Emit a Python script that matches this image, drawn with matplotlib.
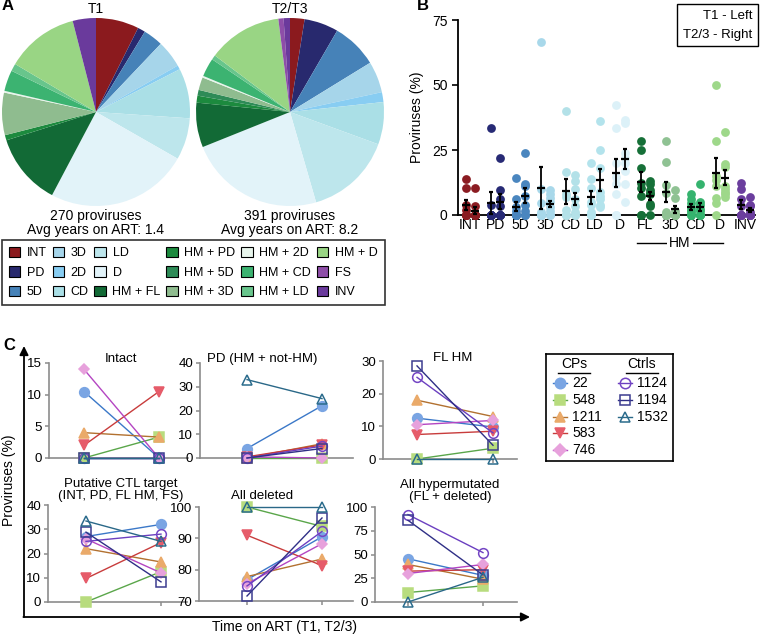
import numpy as np
import matplotlib
matplotlib.use("Agg")
import matplotlib.pyplot as plt
from matplotlib.patches import Patch
from matplotlib.transforms import blended_transform_factory

plt.rcParams['font.family'] = ['Liberation Sans', 'DejaVu Sans']

W, H = 763, 636

# ---------------- panel A: proviral landscape (% of proviruses)
pie_labels = ["INT", "PD", "5D", "3D", "2D", "CD", "LD", "D",
              "HM + FL", "HM + PD", "HM + 5D", "HM + 3D", "HM + 2D",
              "HM + CD", "HM + LD", "HM + D", "FS", "INV"]
pie_colors = ["#8b1a1e", "#28296e", "#4682b8", "#a6d5ea", "#88cdf2", "#aadfe6",
              "#bde6ec", "#e2f3f9", "#126a36", "#1c8a3e", "#2e8b57", "#8fbc8f",
              "#e8f5ec", "#3cb371", "#68c58c", "#99d584", "#8e4ea8", "#6a3a9c"]
pie_t1 = [7.4, 1.3, 3.4, 4.7, 0.7, 8.6, 7.2, 24.5, 12.4, 0.9, 0.0, 7.3, 0.3,
          3.6, 1.3, 12.5, 0.0, 4.0]
pie_t23 = [2.5, 5.9, 7.9, 5.4, 1.7, 7.3, 15.0, 23.5, 7.7, 1.2, 1.0, 2.2, 0.3,
           3.2, 0.8, 12.8, 0.9, 1.1]
pie_titles = ["T1", "T2/T3"]
pie_notes = ["270 proviruses\nAvg years on ART: 1.4",
             "391 proviruses\nAvg years on ART: 8.2"]

# ---------------- panel B: per-participant proportions
b_groups = ["INT", "PD", "5D", "3D", "CD", "LD", "D", "FL", "3D", "CD", "D", "INV"]
b_colors = ["#8b1c22", "#272a75", "#4a86bf", "#a8d8ea", "#b3e1e8", "#b3e3ec",
            "#dcf1f8", "#167038", "#8fc293", "#35b36e", "#9ed88a", "#6b3e9e"]
b_t1 = [[14, 10.5, 4, 2, 0, 0, 0, 0],
        [33.3, 4, 0, 0, 0, 0, 0, 0],
        [14.2, 6, 3.2, 1.5, 0, 0, 0, 0],
        [66.7, 10, 4.5, 1, 0, 0, 0, 0],
        [40, 16.5, 8, 7, 2, 0, 0, 0],
        [20, 13.8, 10.5, 5, 4, 1, 0, 0],
        [42.5, 33.5, 20, 14.5, 12, 8, 0, 0],
        [28.5, 25, 18, 12.5, 10.5, 7.5, 0, 0],
        [28.5, 20.5, 11.5, 8.3, 1, 0, 0, 0],
        [8, 6, 4.5, 3, 2, 1, 0, 0],
        [50, 28.5, 15, 13.5, 11, 6.5, 4.5, 0],
        [12.5, 10, 6, 3.5, 0, 0, 0, 0]]
b_t23 = [[10.5, 3.3, 0, 0, 0, 0, 0, 0],
         [21.8, 9.8, 6.3, 3.6, 0, 0, 0, 0],
         [23.8, 12, 11, 7.5, 4, 1.5, 0, 0],
         [9.5, 8, 6.5, 5, 3, 1.5, 0, 0],
         [15.5, 13, 10, 6, 3.5, 1, 0, 0],
         [36, 25, 18, 9, 7.5, 6, 4, 3],
         [36.5, 35.5, 24, 22, 20, 17, 12, 5],
         [13, 11.8, 9.8, 8.5, 8, 4.2, 3.3, 0],
         [9.5, 6.5, 1.5, 0, 0, 0, 0, 0],
         [12, 5, 4, 2.5, 1.5, 0, 0, 0],
         [32, 19.5, 18.5, 11, 10, 9, 8, 7],
         [7, 4, 3.5, 1, 0, 0, 0, 0]]

# ---------------- panel C: paired T1 -> T2/3 per participant
c_ids = ["22", "548", "1211", "583", "746", "1124", "1194", "1532"]
c_markers = ["o", "s", "^", "v", "D", "o", "s", "^"]
c_fill = ["#7aa5e3", "#b8dc7e", "#eaaa6a", "#e65c6a", "#e7a1dc", "none", "none", "none"]
c_edge = ["#7aa5e3", "#b8dc7e", "#eaaa6a", "#e65c6a", "#e7a1dc", "#7446c4", "#3c3c90", "#2b6c8c"]
c_line = ["#3b78c8", "#5aa64a", "#b27130", "#c83c3c", "#b445c2", "#6b3fc0", "#2f2f86", "#2a6888"]

intact_t1 = [10.5, 0, 4, 2, 14, 0, 0, 0]
intact_t23 = [0, 3.3, 3.3, 10.5, 0, 0, 0, 0]
pd_t1 = [4, 0, 0, 0.5, 0.5, 0, 0, 33]
pd_t23 = [22, 0, 6, 5.5, 0, 5, 4, 25]
flhm_t1 = [12.5, 0, 18, 7.5, 10.5, 25, 28.5, 0]
flhm_t23 = [9.8, 3.3, 13, 8.5, 11.8, 8, 4.2, 0]
ctl_t1 = [27, 0, 22, 9.7, 26, 25, 28.8, 33.4]
ctl_t23 = [32, 12.5, 16.5, 24.5, 12, 28, 8.3, 25]
del_t1 = [76.8, 100, 77.8, 91, 75.5, 74.8, 71.6, 100]
del_t23 = [90.5, 93.8, 83.4, 81.3, 88.3, 92.2, 96.5, 100]
hyp_t1 = [45.5, 10, 39.5, 32.5, 30, 92, 86, 0]
hyp_t23 = [28, 17, 24, 34, 39.5, 52, 28.5, 26]


def px_rect(x0, y0, x1, y1):
    return [x0 / W, 1 - y1 / H, (x1 - x0) / W, (y1 - y0) / H]


fig = plt.figure(figsize=(W / 100, H / 100), dpi=100)

# ---- A: pies
for vals, cx, title, note in zip([pie_t1, pie_t23], [96, 290], pie_titles, pie_notes):
    ax = fig.add_axes(px_rect(cx - 94, 18, cx + 94, 206))
    ax.pie(vals, colors=pie_colors, startangle=90, counterclock=False,
           wedgeprops=dict(linewidth=0))
    ax.set_xlim(-1, 1)
    ax.set_ylim(-1, 1)
    fig.text(cx / W, 1 - 9 / H, title, ha="center", va="center", fontsize=10)
    fig.text(cx / W, 1 - 223 / H, note, ha="center", va="center", fontsize=10,
             linespacing=1.0)

handles = [Patch(facecolor=c, edgecolor="black", linewidth=0.8) for c in pie_colors]
leg = fig.legend(handles, pie_labels, ncol=6, loc="upper left",
                 bbox_to_anchor=(2 / W, 1 - 240 / H),
                 fontsize=9, handlelength=0.9, handleheight=0.9, handletextpad=0.55,
                 labelspacing=0.55, borderpad=0.55, columnspacing=0.45,
                 frameon=True, fancybox=False, edgecolor="black", borderaxespad=0)
leg.get_frame().set_linewidth(1.2)

# ---- B: dot plot with mean +/- SEM
axB = fig.add_axes(px_rect(458, 20, 755, 215))
for i, (col, v1, v2) in enumerate(zip(b_colors, b_t1, b_t23)):
    for x, vals in ((i - 0.18, v1), (i + 0.18, v2)):
        vals = np.array(vals, dtype=float)
        axB.scatter(np.full(len(vals), x), vals, s=40, color=col, zorder=3,
                    clip_on=False, linewidths=0)
        m = vals.mean()
        sem = vals.std(ddof=1) / np.sqrt(len(vals))
        axB.errorbar(x, m, yerr=sem, fmt="_", color="black", markersize=6,
                     mew=1.6, capsize=1.5, elinewidth=1.3, capthick=1.2, zorder=4)
axB.set_xlim(-0.48, 11.4)
axB.set_ylim(0, 75)
axB.set_yticks([0, 25, 50, 75])
axB.set_xticks(range(len(b_groups)))
axB.set_xticklabels(b_groups)
axB.tick_params(axis="x", length=0, pad=2, labelsize=10)
axB.tick_params(axis="y", length=4, width=1.2, labelsize=10)
axB.set_ylabel("Proviruses (%)", fontsize=10, labelpad=6)
for s in ("top", "right"):
    axB.spines[s].set_visible(False)
for s in ("left", "bottom"):
    axB.spines[s].set_linewidth(1.3)
tr = blended_transform_factory(axB.transData, axB.transAxes)
axB.plot([6.68, 10.12], [-0.145, -0.145], transform=tr, color="black", lw=1,
         clip_on=False)
axB.text(8.4, -0.145, "HM", transform=tr, ha="center", va="center", fontsize=10,
         bbox=dict(boxstyle="square,pad=0.15", fc="white", ec="none"))
axB.text(0.99, 1.05, "T1 - Left\nT2/3 - Right", transform=axB.transAxes,
         ha="right", va="top", fontsize=9.5, linespacing=1.7,
         bbox=dict(boxstyle="square,pad=0.45", fc="white", ec="black", lw=1))

# ---- C: paired plots
c_panels = [
    ("Intact", intact_t1, intact_t23, (0, 15), [0, 5, 10, 15], (49, 363, 188, 458), 84, 159, (121, 359)),
    ("PD (HM + not-HM)", pd_t1, pd_t23, (0, 40), [0, 10, 20, 30, 40], (200, 363, 353, 458), 247, 322, (262, 359)),
    ("FL HM", flhm_t1, flhm_t23, (0, 30), [0, 10, 20, 30], (383, 361, 517, 459), 417, 493, (453, 358)),
    ("Putative CTL target\n(INT, PD, FL HM, FS)", ctl_t1, ctl_t23, (0, 40), [0, 10, 20, 30, 40],
     (48, 505, 187, 602), 86, 161, (121, 490)),
    ("All deleted", del_t1, del_t23, (70, 100), [70, 80, 90, 100], (199, 507, 353, 601), 247, 322, (262, 496)),
    ("All hypermutated\n(FL + deleted)", hyp_t1, hyp_t23, (0, 100), [0, 25, 50, 75, 100],
     (375, 507, 517, 602), 408, 483, (450, 491)),
]
for title, t1, t2, ylim, yt, (x0, y0, x1, y1), p1, p2, (tx, ty) in c_panels:
    ax = fig.add_axes(px_rect(x0, y0, x1, y1))
    for k in range(len(c_ids)):
        ax.plot([0, 1], [t1[k], t2[k]], color=c_line[k], lw=1, marker=c_markers[k],
                ms=7 if c_markers[k] != "D" else 5.5, mfc=c_fill[k], mec=c_edge[k],
                mew=1.1, clip_on=False, zorder=3 + k * 0.1)
    sp = p2 - p1
    ax.set_xlim((x0 - p1) / sp, (x1 - p1) / sp)
    ax.set_ylim(*ylim)
    ax.set_yticks(yt)
    ax.set_xticks([0, 1])
    ax.set_xticklabels([])
    for s in ("top", "right"):
        ax.spines[s].set_visible(False)
    for s in ("left", "bottom"):
        ax.spines[s].set_color("#8c8c8c")
        ax.spines[s].set_linewidth(1.2)
    ax.tick_params(color="#8c8c8c", width=1.1, length=3, labelsize=9.5, pad=2)
    fig.text(tx / W, 1 - ty / H, title, ha="center", va="center", fontsize=9.5,
             linespacing=1.0)

# legend box for panel C
axL = fig.add_axes(px_rect(546, 354, 673, 461))
axL.set_xlim(546, 673)
axL.set_ylim(461, 354)
axL.set_xticks([])
axL.set_yticks([])
for s in axL.spines.values():
    s.set_linewidth(1.2)
for hx, head in ((574, "CPs"), (642, "Ctrls")):
    axL.text(hx, 364, head, ha="center", va="center", fontsize=10)
    axL.plot([hx - 16, hx + 16], [373, 373], color="black", lw=1)
for k, pid in enumerate(c_ids):
    col = 0 if k < 5 else 1
    row = k if k < 5 else k - 5
    mx = 560 if col == 0 else 625
    yy = 383 + row * 16.8
    axL.plot([mx - 7, mx + 7], [yy, yy], color=c_line[k], lw=1)
    axL.plot([mx], [yy], marker=c_markers[k], ms=7.5 if c_markers[k] != "D" else 6,
             mfc=c_fill[k], mec=c_edge[k], mew=1.1)
    axL.text(mx + 12, yy, pid, ha="left", va="center", fontsize=10)

# overlay for labels and arrows (pixel coords)
ov = fig.add_axes([0, 0, 1, 1])
ov.set_xlim(0, W)
ov.set_ylim(H, 0)
ov.axis("off")
ov.annotate("", xy=(24, 346), xytext=(24, 617),
            arrowprops=dict(arrowstyle="-|>", color="black", lw=1.3,
                            mutation_scale=13, shrinkA=0, shrinkB=0))
ov.annotate("", xy=(530, 617), xytext=(23.4, 617),
            arrowprops=dict(arrowstyle="-|>", color="black", lw=1.3,
                            mutation_scale=13, shrinkA=0, shrinkB=0))
ov.text(9, 480, "Proviruses (%)", rotation=90, ha="center", va="center", fontsize=10)
ov.text(284, 627, "Time on ART (T1, T2/3)", ha="center", va="center", fontsize=10)
ov.text(2, 6, "A", ha="left", va="center", fontsize=12, fontweight="bold")
ov.text(417, 6, "B", ha="left", va="center", fontsize=12, fontweight="bold")
ov.text(3, 346, "C", ha="left", va="center", fontsize=12, fontweight="bold")

fig.savefig("out.png", dpi=100)
